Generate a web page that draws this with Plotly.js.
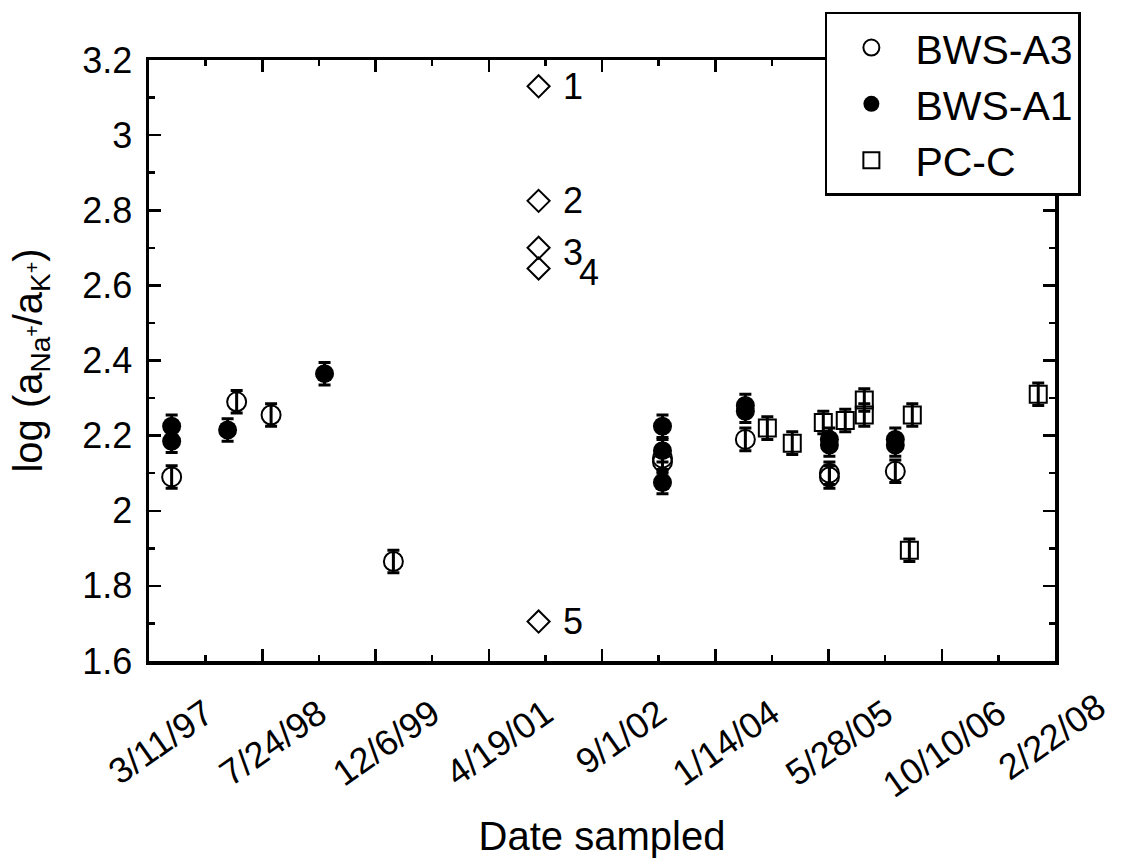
<!DOCTYPE html>
<html><head><meta charset="utf-8">
<script src="https://cdn.plot.ly/plotly-3.0.1.min.js"></script>
<style>html,body{margin:0;padding:0;background:#fff}#chart{width:1123px;height:858px}</style>
</head><body><div id="chart"></div>
<script>
// ---- data ----
const a3Dates = ['1996-10-12','1997-07-26','1997-12-25','1999-06-18','2002-09-18','2002-09-18','2003-09-19','2004-09-24','2004-09-24','2005-07-12'];
const a3Vals  = [2.09, 2.29, 2.255, 1.865, 2.14, 2.13, 2.19, 2.10, 2.09, 2.105];
const a3Err   = [0.03, 0.03, 0.03, 0.03, 0.03, 0.03, 0.03, 0.03, 0.03, 0.03];

const a1Dates = ['1996-10-12','1996-10-12','1997-06-16','1998-08-18','2002-09-18','2002-09-18','2002-09-18','2003-09-19','2003-09-19','2004-09-24','2004-09-24','2005-07-12','2005-07-12'];
const a1Vals  = [2.225, 2.185, 2.215, 2.365, 2.225, 2.16, 2.075, 2.28, 2.265, 2.19, 2.175, 2.19, 2.175];
const a1Err   = [0.03, 0.03, 0.03, 0.03, 0.03, 0.03, 0.03, 0.03, 0.03, 0.03, 0.03, 0.03, 0.03];

const pcDates = ['2003-12-25','2004-04-13','2004-08-28','2004-12-03','2005-02-25','2005-02-25','2005-09-12','2005-09-25','2007-04-04'];
const pcVals  = [2.22, 2.18, 2.235, 2.24, 2.295, 2.255, 1.895, 2.255, 2.31];
const pcErr   = [0.03, 0.03, 0.03, 0.03, 0.03, 0.03, 0.03, 0.03, 0.03];

const dmDates  = ['2001-03-20','2001-03-20','2001-03-20','2001-03-20','2001-03-20'];
const dmVals   = [3.13, 2.825, 2.70, 2.645, 1.705];
const dmLabels = ['1','2','3','4','5'];

const tickDates  = ['1997-03-11','1998-07-24','1999-12-06','2001-04-19','2002-09-01','2004-01-14','2005-05-28','2006-10-10','2008-02-22'];
const tickLabels = ['3/11/97','7/24/98','12/6/99','4/19/01','9/1/02','1/14/04','5/28/05','10/10/06','2/22/08'];

// ---- styling ----
const FONT = '"Liberation Sans", Arial, Helvetica, sans-serif';
const TICK_SIZE = 36;
const XANGLE = -35;
const DAY = 86400000;
const t0 = Date.parse('1996-07-04T00:00:00Z');
const t1 = Date.parse('2007-06-17T00:00:00Z');
const iso = ms => new Date(ms).toISOString().slice(0,10);
const errStyle = arr => ({type:'data', array:arr, visible:true, color:'#000', thickness:3, width:6});

const traces = [
  {x:pcDates, y:pcVals, type:'scatter', mode:'markers', name:'PC-C', legendrank:3,
   marker:{symbol:'square-open', size:17, color:'#000', line:{width:2, color:'#000'}}, error_y:errStyle(pcErr)},
  {x:a3Dates, y:a3Vals, type:'scatter', mode:'markers', name:'BWS-A3', legendrank:1,
   marker:{symbol:'circle-open', size:19, color:'#000', line:{width:2, color:'#000'}}, error_y:errStyle(a3Err)},
  {x:a1Dates, y:a1Vals, type:'scatter', mode:'markers', name:'BWS-A1', legendrank:2,
   marker:{symbol:'circle', size:19, color:'#000', line:{width:0}}, error_y:errStyle(a1Err)},
  {x:dmDates, y:dmVals, type:'scatter', mode:'markers', showlegend:false,
   marker:{symbol:'diamond-open', size:17, color:'#000', line:{width:2, color:'#000'}}}
];

const labelShift = [[22,0],[22,0],[22,-5],[38,-4],[22,0]];
const annotations = dmLabels.map((t,i) => ({
  x: dmDates[i], y: dmVals[i], xref:'x', yref:'y', text:t, showarrow:false,
  xanchor:'left', yanchor:'middle', xshift:labelShift[i][0], yshift:labelShift[i][1],
  font:{family:FONT, size:36, color:'#000'}
}));

// tick labels beyond the axis end are drawn as rotated text at the matching fraction
tickDates.forEach((d,i) => {
  const ms = Date.parse(d + 'T00:00:00Z');
  if (ms > t1) {
    annotations.push({
      x:(ms - t0)/(t1 - t0), y:0, xref:'paper', yref:'paper', text:tickLabels[i], showarrow:false,
      textangle:XANGLE, xanchor:'right', yanchor:'top', yshift:-22, xshift:4,
      font:{family:FONT, size:TICK_SIZE, color:'#000'}
    });
  }
});

const inTicks = tickDates.filter(d => Date.parse(d + 'T00:00:00Z') <= t1);
const layout = {
  width:1123, height:858,
  margin:{l:149, r:68, t:55, b:197},
  paper_bgcolor:'#fff', plot_bgcolor:'#fff',
  font:{family:FONT, size:TICK_SIZE, color:'#000'},
  showlegend:true,
  legend:{x:0.746, y:1.08, xanchor:'left', yanchor:'top', bgcolor:'#fff',
          bordercolor:'#000', borderwidth:2.5, font:{family:FONT, size:41, color:'#000'},
          itemwidth:78, traceorder:'normal'},
  xaxis:{type:'date', range:[iso(t0), iso(t1)],
         tickmode:'array', tickvals:inTicks, ticktext:tickLabels.slice(0, inTicks.length),
         tickangle:XANGLE, ticks:'inside', ticklen:6, tickwidth:2.5, tickcolor:'#000', ticklabelstandoff:14,
         showline:true, linewidth:3.5, linecolor:'#000', mirror:'ticks', showgrid:false, zeroline:false,
         tickfont:{family:FONT, size:TICK_SIZE, color:'#000'},
         minor:{ticks:'inside', ticklen:12, tickwidth:2.5, tickcolor:'#000', tick0:'1996-07-04', dtick:500*DAY, showgrid:false},
         title:{text:'Date sampled', font:{family:FONT, size:40, color:'#000'}, standoff:22}},
  yaxis:{range:[1.6, 3.2], tickmode:'linear', tick0:1.6, dtick:0.2,
         ticks:'inside', ticklen:12, tickwidth:2.5, tickcolor:'#000', ticklabelstandoff:6,
         showline:true, linewidth:3.5, linecolor:'#000', mirror:'ticks', showgrid:false, zeroline:false,
         tickfont:{family:FONT, size:TICK_SIZE, color:'#000'},
         minor:{ticks:'inside', ticklen:6, tickwidth:2.5, tickcolor:'#000', dtick:0.1, showgrid:false},
         title:{text:'log (a<sub>Na<sup>+</sup></sub>/a<sub>K<sup>+</sup></sub>)', font:{family:FONT, size:40, color:'#000'}, standoff:28}},
  annotations: annotations
};

Plotly.newPlot('chart', traces, layout, {displayModeBar:false, staticPlot:true});
</script></body></html>
